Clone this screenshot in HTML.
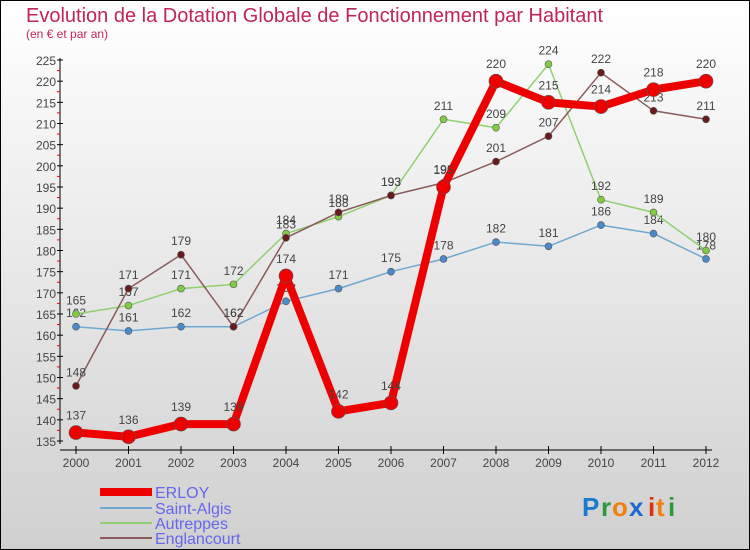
<!DOCTYPE html>
<html><head><meta charset="utf-8">
<style>
body{margin:0;}
#wrap{width:750px;height:550px;position:relative;overflow:hidden;font-family:"Liberation Sans",sans-serif;}
</style></head>
<body>
<div id="wrap">
<svg id="svg" width="750" height="550" xmlns="http://www.w3.org/2000/svg">
<defs><linearGradient id="bg" x1="0" y1="0" x2="0" y2="1"><stop offset="0" stop-color="#ffffff"/><stop offset="1" stop-color="#d0d0d0"/></linearGradient></defs>
<rect x="0.5" y="0.5" width="749" height="549" fill="url(#bg)" stroke="#000"/>
<text x="26" y="22" font-size="20" fill="#c0245a">Evolution de la Dotation Globale de Fonctionnement par Habitant</text>
<text x="26" y="38" font-size="12" fill="#c0245a">(en € et par an)</text>
<g id="axes"></g><g id="series"></g>
<g>
<line x1="100" y1="492" x2="152" y2="492" stroke="#e00" stroke-width="8"/>
<text x="155" y="498" font-size="16" fill="#6666ee">ERLOY</text>
<line x1="100" y1="508" x2="152" y2="508" stroke="#6fa8d0" stroke-width="2"/>
<text x="155" y="514" font-size="16" fill="#6666ee">Saint-Algis</text>
<line x1="100" y1="523" x2="152" y2="523" stroke="#90d070" stroke-width="2"/>
<text x="155" y="529" font-size="16" fill="#6666ee">Autreppes</text>
<line x1="100" y1="538" x2="152" y2="538" stroke="#8b5a5a" stroke-width="2"/>
<text x="155" y="544" font-size="16" fill="#6666ee">Englancourt</text>
</g>
<g font-size="26" font-weight="bold">
<text x="582" y="516" fill="#1a7ad0">P</text><text x="601" y="516" fill="#2a9a3a">r</text><text x="612" y="516" fill="#f08010">o</text><text x="629" y="516" fill="#1a6ad0">x</text><text x="648" y="516" fill="#e03010">i</text><text x="656" y="516" fill="#f08010">t</text><text x="668" y="516" fill="#2a9a3a">i</text>
</g>
</svg>
</div>
<script>
const years=[2000,2001,2002,2003,2004,2005,2006,2007,2008,2009,2010,2011,2012];
const erloy=[137,136,139,139,174,142,144,195,220,215,214,218,220];
const algis=[162,161,162,162,168,171,175,178,182,181,186,184,178];
const autre=[165,167,171,172,184,188,193,211,209,224,192,189,180];
const engl=[148,171,179,162,183,189,193,196,201,207,222,213,211];
const yTicks=[135,140,145,150,155,160,165,170,175,180,185,190,195,200,205,210,215,220,225];
const NS="http://www.w3.org/2000/svg";
function xs(i){return 76+i*52.5;}
function ys(v){return 441-(v-135)*(381/90);}
function mk(t,a,p){const e=document.createElementNS(NS,t);for(const k in a)e.setAttribute(k,a[k]);p.appendChild(e);return e;}
const ax=document.getElementById('axes');
const yl=mk('line',{x1:60,y1:58,x2:60,y2:444,stroke:'#000'},ax);


const xl=mk('line',{x1:60,y1:450,x2:712,y2:450,stroke:'#000'},ax);


yTicks.forEach(v=>{const y=ys(v);
 mk('line',{x1:57,y1:y,x2:63,y2:y,stroke:'#000'},ax);
 if(v<225)mk('line',{x1:57,y1:y-10.6,x2:60,y2:y-10.6,stroke:'#e00'},ax);
 const t=mk('text',{x:56,y:y+5,'font-size':12,'text-anchor':'end',fill:'#444'},ax);t.textContent=v;
 
 });
years.forEach((yr,i)=>{const x=xs(i);
 mk('line',{x1:x,y1:446,x2:x,y2:454,stroke:'#000'},ax);
 const t=mk('text',{x:x,y:467,'font-size':12,'text-anchor':'middle',fill:'#444'},ax);t.textContent=yr;
 
 });
const sg=document.getElementById('series');
function draw(data,color,w,r,name,dot){
 const g=mk('g',{},sg);
 
 
 const pts=data.map((v,i)=>xs(i)+','+ys(v)).join(' ');
 mk('polyline',{points:pts,fill:'none',stroke:color,'stroke-width':w,'stroke-linejoin':'round'},g);
 data.forEach((v,i)=>{
  const c=mk('circle',{cx:xs(i),cy:ys(v),r:r,fill:dot,stroke:'#555','stroke-width':0.6},g);
  
  
  const t=mk('text',{x:xs(i),y:ys(v)-(r+6),'font-size':12,'text-anchor':'middle',fill:'#444'},g);t.textContent=v;
  
  
 });
}
draw(algis,'#6fa8d0',1.5,3.5,'saint-algis','#4a8ac8');
draw(autre,'#90d070',1.5,3.5,'autreppes','#80cc40');
draw(engl,'#8b5a5a',1.5,3.5,'englancourt','#6a1a1a');
draw(erloy,'#e00',8,7,'erloy','#e00');
</script>
</body></html>
